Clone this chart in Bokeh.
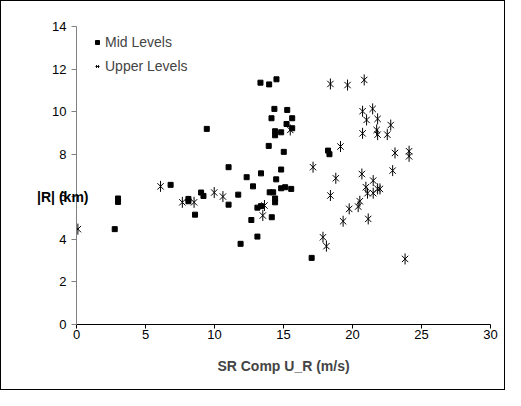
from bokeh.plotting import figure
from bokeh.models import Range1d, Legend, LegendItem, FixedTicker, LinearAxis
from bokeh.embed import file_html
from bokeh.resources import INLINE
import math

mid_x = [2.77, 3.01, 3.01, 6.82, 8.11, 8.11, 8.59, 9.03, 9.2, 9.44, 11.02, 11.02, 11.72, 11.89,
         12.33, 12.67, 12.79, 13.11, 13.11, 13.33, 13.37, 13.37, 13.96, 13.93, 14.0, 14.13, 14.15,
         14.25, 14.34, 14.39, 14.39, 14.39, 14.39, 14.47, 14.49, 14.83, 14.83, 14.83, 15.02, 15.12,
         15.22, 15.27, 15.56, 15.63, 15.63, 17.04, 18.23, 18.33]
mid_y = [4.48, 5.92, 5.76, 6.56, 5.90, 5.79, 5.16, 6.20, 6.04, 9.19, 7.39, 5.63, 6.10, 3.79,
         6.92, 4.91, 6.49, 4.13, 5.49, 11.36, 7.10, 5.56, 11.28, 8.39, 6.21, 9.69, 5.04,
         6.21, 10.13, 9.08, 8.89, 5.92, 5.74, 6.82, 11.52, 9.03, 7.28, 6.40, 8.11, 6.45,
         9.42, 10.08, 6.37, 9.69, 9.22, 3.13, 8.17, 8.0]

up_x = [0.1, 6.09, 7.67, 8.52, 9.98, 10.61, 13.5, 13.62, 15.49, 17.14, 17.86, 18.11, 18.4, 18.4,
        18.79, 19.13, 19.32, 19.64, 19.76, 20.41, 20.53, 20.68, 20.73, 20.73, 20.85, 20.97, 21.02,
        21.09, 21.14, 21.46, 21.5, 21.5, 21.75, 21.82, 21.82, 21.82, 21.99, 22.52, 22.77, 22.91,
        23.08, 23.81, 24.1, 24.1]
up_y = [4.48, 6.49, 5.74, 5.74, 6.20, 6.01, 5.12, 5.59, 9.14, 7.39, 4.10, 3.68, 11.30, 6.06,
        6.87, 8.36, 4.85, 11.25, 5.43, 5.54, 5.79, 7.07, 10.02, 8.98, 11.49, 6.45, 9.61,
        6.17, 4.96, 10.13, 6.76, 6.17, 9.14, 9.66, 8.92, 6.37, 6.37, 8.92, 9.37, 7.23,
        8.06, 3.08, 8.14, 7.90]

x_ticks = [0, 5, 10, 15, 20, 25, 30]
y_ticks = [0, 2, 4, 6, 8, 10, 12, 14]
series_names = ["Mid Levels", "Upper Levels"]
x_title = "SR Comp U_R (m/s)"
y_title = "|R| (km)"
y_title_at = 6

FONT = "Liberation Sans"

p = figure(width=505, height=390, output_backend="svg", toolbar_location=None,
           x_range=Range1d(0, 30), y_range=Range1d(0, 14))
p.min_border_left = 75
p.min_border_right = 16
p.min_border_top = 25
p.min_border_bottom = 67
p.outline_line_color = None
p.grid.visible = False
p.background_fill_color = "white"
p.border_fill_color = "white"
p.styles = {"border": "1px solid black"}

p.xaxis.ticker = FixedTicker(ticks=x_ticks)
p.yaxis.ticker = FixedTicker(ticks=y_ticks)
for ax in (p.xaxis, p.yaxis):
    ax.major_label_text_font = FONT
    ax.major_label_text_font_size = "13px"
    ax.major_label_text_color = "black"
    ax.minor_tick_line_color = None
    ax.major_tick_in = 0
p.xaxis.major_tick_out = 4
p.yaxis.major_tick_out = 5
p.xaxis.axis_line_color = "black"
p.xaxis.major_tick_line_color = "black"
p.yaxis.axis_line_color = "#808080"
p.yaxis.major_tick_line_color = "#808080"
p.xaxis.major_label_standoff = 1
p.yaxis.major_label_standoff = 5

p.xaxis.axis_label = x_title
p.xaxis.axis_label_text_font = FONT
p.xaxis.axis_label_text_font_style = "bold"
p.xaxis.axis_label_text_font_size = "14px"
p.xaxis.axis_label_standoff = 16

# horizontal y title, drawn as the single label of an extra left axis
ytitle_axis = LinearAxis(ticker=FixedTicker(ticks=[y_title_at]),
                         major_label_overrides={y_title_at: y_title},
                         axis_line_color=None, major_tick_line_color=None,
                         minor_tick_line_color=None, major_tick_out=0, major_tick_in=0,
                         major_label_standoff=-39,
                         major_label_text_font=FONT, major_label_text_font_style="bold",
                         major_label_text_font_size="14px", major_label_text_color="black")
p.add_layout(ytitle_axis, "left")

r_mid = p.scatter(mid_x, mid_y, marker="square", size=5, fill_color="black", line_color="black")
r_up1 = p.scatter(up_x, up_y, marker="x", size=9, line_color="black", line_width=1)
r_up2 = p.scatter(up_x, up_y, marker="dash", size=11, angle=math.pi / 2, line_color="black", line_width=1)

legend = Legend(items=[LegendItem(label=series_names[0], renderers=[r_mid]),
                       LegendItem(label=series_names[1], renderers=[r_up1, r_up2])],
                location=(16, 250), border_line_color=None, background_fill_alpha=0,
                padding=0, margin=0, spacing=8, glyph_width=10, glyph_height=16,
                label_height=16, label_standoff=3,
                label_text_font=FONT, label_text_font_size="14px")
p.add_layout(legend)

open("out.html", "w").write(file_html(p, INLINE))
